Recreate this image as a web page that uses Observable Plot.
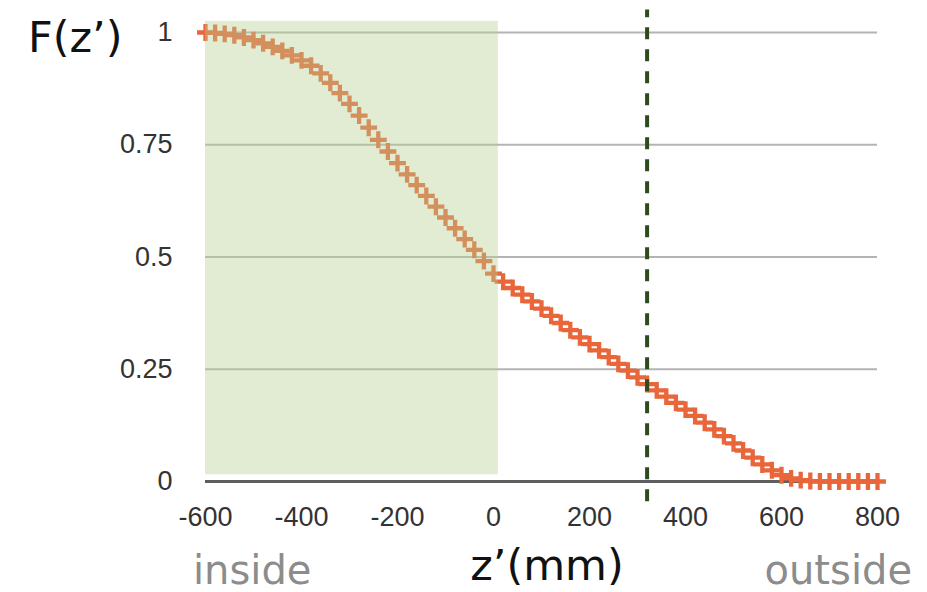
<!DOCTYPE html>
<html>
<head>
<meta charset="utf-8">
<script src="https://cdn.jsdelivr.net/npm/d3@7"></script>
<script src="https://cdn.jsdelivr.net/npm/@observablehq/plot@0.6"></script>
<style>
  html, body { margin: 0; padding: 0; background: #fff; }
  #chart { width: 927px; height: 592px; }
</style>
</head>
<body>
<div id="chart"></div>
<script>
// ---- data ----
const zValues = [
  -600, -580, -560, -540, -520, -500, -480, -460, -440, -420,
  -400, -380, -360, -340, -320, -300, -280, -260, -240, -220,
  -200, -180, -160, -140, -120, -100, -80, -60, -40, -20,
  0, 20, 40, 60, 80, 100, 120, 140, 160, 180,
  200, 220, 240, 260, 280, 300, 320, 340, 360, 380,
  400, 420, 440, 460, 480, 500, 520, 540, 560, 580,
  600, 620, 640, 660, 680, 700, 720, 740, 760, 780, 800
];
const fValues = [
  1.000, 0.999, 0.997, 0.994, 0.989, 0.983, 0.976, 0.968, 0.959, 0.949,
  0.938, 0.926, 0.909, 0.888, 0.865, 0.841, 0.815, 0.788, 0.761, 0.735,
  0.709, 0.684, 0.660, 0.636, 0.612, 0.588, 0.564, 0.540, 0.516, 0.491,
  0.463, 0.445, 0.431, 0.416, 0.401, 0.385, 0.369, 0.353, 0.337, 0.321,
  0.306, 0.292, 0.277, 0.262, 0.247, 0.232, 0.217, 0.203, 0.189, 0.175,
  0.160, 0.146, 0.131, 0.116, 0.101, 0.085, 0.069, 0.053, 0.038, 0.025,
  0.014, 0.007, 0.003, 0.001, 0.000, 0.000, 0.000, 0.000, 0.000, 0.000, 0.000
];
const yTicks = [0, 0.25, 0.5, 0.75, 1];
const yTickLabels = ["0", "0.25", "0.5", "0.75", "1"];
const xTicks = [-600, -400, -200, 0, 200, 400, 600, 800];
const gridLevels = [0.25, 0.5, 0.75, 1];
const insideRegion = [{x1: -600, x2: 10, y1: 0.015, y2: 1.025}];
const boundaryZ = [320];
const boundaryExtent = {y1: -0.045, y2: 1.05};

const points = zValues.map((z, i) => ({z, f: fValues[i]}));

const chart = Plot.plot({
  width: 927,
  height: 592,
  marginLeft: 205,
  marginRight: 50,
  marginTop: 32,
  marginBottom: 111,
  style: {background: "#fff", fontFamily: "'Liberation Sans', Arial, Helvetica, sans-serif"},
  x: {domain: [-600, 800]},
  y: {domain: [0, 1]},
  marks: [
    Plot.ruleY(gridLevels, {stroke: "#b4b4b4", strokeWidth: 2}),
    Plot.ruleY([0], {stroke: "#5e5e5e", strokeWidth: 3}),
    Plot.axisY({
      ticks: yTicks,
      tickFormat: (d) => yTickLabels[yTicks.indexOf(d)],
      tickSize: 0,
      tickPadding: 33,
      fontSize: 27,
      fill: "#333",
      label: null
    }),
    Plot.axisX({
      ticks: xTicks,
      tickFormat: (d) => String(d),
      tickSize: 0,
      tickPadding: 25,
      fontSize: 27,
      fill: "#333",
      label: null
    }),
    Plot.dot(points, {
      x: "z", y: "f", symbol: "plus", r: 5.5,
      stroke: "#e8663a", strokeWidth: 4.3
    }),
    Plot.rect(insideRegion, {
      x1: "x1", x2: "x2", y1: "y1", y2: "y2",
      fill: "#b6cf91", fillOpacity: 0.4
    }),
    Plot.ruleX(boundaryZ, {
      y1: boundaryExtent.y1, y2: boundaryExtent.y2,
      stroke: "#2f4a1c", strokeWidth: 4, strokeDasharray: "12,10"
    })
  ]
});

document.getElementById("chart").appendChild(chart);

// ---- text labels ----
const svg = d3.select(chart);
const labelFont = "'DejaVu Sans', Verdana, sans-serif";
svg.append("text")
  .attr("x", 28).attr("y", 52)
  .attr("text-anchor", "start")
  .attr("font-family", labelFont).attr("font-size", 43)
  .attr("fill", "#111").text("F(z’)");
svg.append("text")
  .attr("x", 547).attr("y", 580)
  .attr("text-anchor", "middle")
  .attr("font-family", labelFont).attr("font-size", 43)
  .attr("fill", "#111").text("z’(mm)");
svg.append("text")
  .attr("x", 193).attr("y", 584)
  .attr("text-anchor", "start")
  .attr("font-family", labelFont).attr("font-size", 40)
  .attr("fill", "#8c8c8c").text("inside");
svg.append("text")
  .attr("x", 912).attr("y", 584)
  .attr("text-anchor", "end")
  .attr("font-family", labelFont).attr("font-size", 40)
  .attr("fill", "#8c8c8c").text("outside");
</script>
</body>
</html>
